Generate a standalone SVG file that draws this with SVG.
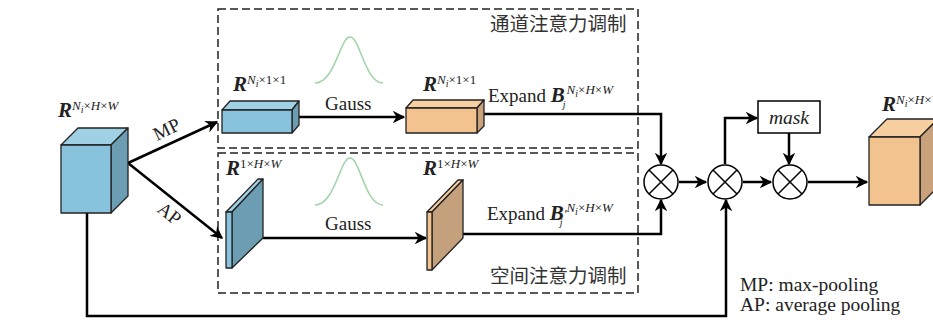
<svg xmlns="http://www.w3.org/2000/svg" width="933" height="322" viewBox="0 0 933 322">
<style>
.t{font-family:"Liberation Serif","Times New Roman",serif;fill:#222}
.R{font-weight:bold;font-style:italic;font-size:21px}
.sup{font-size:13px;font-style:italic}
.sub{font-size:10px;font-style:italic}
.up{font-style:normal}
.lbl{font-size:19px}
.cn{font-family:"Noto Sans CJK SC","Noto Sans",sans-serif;font-size:19.5px;fill:#333}
.dash{fill:none;stroke:#222;stroke-width:1.5;stroke-dasharray:8 4}
.ln{fill:none;stroke:#000;stroke-width:2.5}
.edge{stroke:#222;stroke-width:1.3;stroke-linejoin:round}
.gs{fill:none;stroke:#9fd4a8;stroke-width:1.5}
.circ{fill:#fff;stroke:#000;stroke-width:1.5}
</style>
<defs>
<marker id="ah" viewBox="0 0 10 10" refX="9" refY="5" markerWidth="5" markerHeight="5" orient="auto" markerUnits="strokeWidth">
<path d="M0,0 L10,5 L0,10 L3,5 z" fill="#000"/>
</marker>
</defs>

<rect width="933" height="322" fill="#fff"/>

<g id="box-channel">
<rect class="dash" x="218" y="9" width="420" height="139"/>
<text class="cn" x="490" y="31">通道注意力调制</text>
</g>
<g id="box-spatial">
<rect class="dash" x="218" y="153" width="420" height="140"/>
<text class="cn" x="490" y="283">空间注意力调制</text>
</g>

<g id="connectors">
<line class="ln" x1="128" y1="163" x2="217" y2="122" marker-end="url(#ah)"/>
<line class="ln" x1="128" y1="163" x2="222" y2="238" marker-end="url(#ah)"/>
<line class="ln" x1="299" y1="117" x2="404" y2="117" marker-end="url(#ah)"/>
<line class="ln" x1="263" y1="238" x2="426" y2="238" marker-end="url(#ah)"/>
<polyline class="ln" points="484,114 661,114 661,164" marker-end="url(#ah)"/>
<polyline class="ln" points="463,234 661,234 661,200" marker-end="url(#ah)"/>
<line class="ln" x1="679" y1="182" x2="706" y2="182" marker-end="url(#ah)"/>
<line class="ln" x1="743" y1="182" x2="771" y2="182" marker-end="url(#ah)"/>
<polyline class="ln" points="725,164 725,118 757,118" marker-end="url(#ah)"/>
<line class="ln" x1="789" y1="133" x2="789" y2="164" marker-end="url(#ah)"/>
<line class="ln" x1="808" y1="182" x2="867" y2="182" marker-end="url(#ah)"/>
<polyline class="ln" points="87,213 87,316 726,316 726,200" marker-end="url(#ah)"/>
<text class="t lbl" transform="translate(157,141) rotate(-26)">MP</text>
<text class="t lbl" transform="translate(156,211) rotate(38)">AP</text>
</g>

<g id="input-cube">
<polygon class="edge" points="61,145 78,128 128,128 111,145" fill="#9fd0e4"/>
<polygon class="edge" points="111,145 128,128 128,196 111,213" fill="#6c9db2"/>
<rect class="edge" x="61" y="145" width="50" height="68" fill="#88c2dc"/>
<text class="t" x="58" y="117"><tspan class="R">R</tspan><tspan class="sup" dy="-7">N</tspan><tspan class="sub" dy="3">i</tspan><tspan class="sup" dy="-3"><tspan class="up">×</tspan>H<tspan class="up">×</tspan>W</tspan></text>
</g>

<g id="mp-bar">
<polygon class="edge" points="222,110 230,101 299,101 292,110" fill="#9fd0e4"/>
<polygon class="edge" points="292,110 299,101 299,125 292,133" fill="#6c9db2"/>
<rect class="edge" x="222" y="110" width="70" height="23" fill="#88c2dc"/>
<text class="t" x="233" y="91"><tspan class="R">R</tspan><tspan class="sup" dy="-7">N</tspan><tspan class="sub" dy="3">i</tspan><tspan class="sup" dy="-3"><tspan class="up">×1×1</tspan></tspan></text>
</g>

<g id="gauss-top">
<path class="gs" d="M315,83 C335,83 340,37 350,37 C360,37 365,83 383,83"/>
<text class="t lbl" x="325" y="110">Gauss</text>
</g>

<g id="orange-bar">
<polygon class="edge" points="406,108 413,100 484,100 477,108" fill="#f7cfa0"/>
<polygon class="edge" points="477,108 484,100 484,126 477,133" fill="#c9a27c"/>
<rect class="edge" x="406" y="108" width="71" height="25" fill="#f3c38f"/>
<text class="t" x="423" y="91"><tspan class="R">R</tspan><tspan class="sup" dy="-7">N</tspan><tspan class="sub" dy="3">i</tspan><tspan class="sup" dy="-3"><tspan class="up">×1×1</tspan></tspan></text>
<text class="t lbl" x="488" y="102">Expand <tspan class="R" font-size="20">B</tspan><tspan class="sub" font-size="12" dx="-2" dy="6">j</tspan><tspan class="sup" dx="1" dy="-14">N</tspan><tspan class="sub" dy="3">i</tspan><tspan class="sup" dy="-3"><tspan class="up">×</tspan>H<tspan class="up">×</tspan>W</tspan></text>
</g>

<g id="ap-slab">
<polygon class="edge" points="226,212 258,179 263,179 232,212" fill="#9fd0e4"/>
<polygon class="edge" points="232,212 263,179 263,238 232,268" fill="#6c9db2"/>
<rect class="edge" x="226" y="212" width="6" height="56" fill="#88c2dc"/>
<text class="t" x="226" y="175"><tspan class="R">R</tspan><tspan class="sup" dy="-7"><tspan class="up">1×</tspan>H<tspan class="up">×</tspan>W</tspan></text>
</g>

<g id="gauss-bottom">
<path class="gs" d="M315,205 C335,205 340,158 350,158 C360,158 365,205 383,205"/>
<text class="t lbl" x="325" y="230">Gauss</text>
</g>

<g id="orange-slab">
<polygon class="edge" points="427,212 458,180 463,180 432,212" fill="#f7cfa0"/>
<polygon class="edge" points="432,212 463,180 463,238 432,270" fill="#c4a07c"/>
<rect class="edge" x="427" y="212" width="5" height="58" fill="#f3c38f"/>
<text class="t" x="423" y="175"><tspan class="R">R</tspan><tspan class="sup" dy="-7"><tspan class="up">1×</tspan>H<tspan class="up">×</tspan>W</tspan></text>
<text class="t lbl" x="487" y="220">Expand <tspan class="R" font-size="20">B</tspan><tspan class="sup" font-size="15" dy="-2">′</tspan><tspan class="sub" font-size="12" dx="-7" dy="8">j</tspan><tspan class="sup" dx="4" dy="-14">N</tspan><tspan class="sub" dy="3">i</tspan><tspan class="sup" dy="-3"><tspan class="up">×</tspan>H<tspan class="up">×</tspan>W</tspan></text>
</g>

<g id="mul1">
<circle class="circ" cx="661" cy="182" r="17"/>
<path d="M649,170 L673,194 M673,170 L649,194" stroke="#000" stroke-width="1.5"/>
</g>
<g id="mul2">
<circle class="circ" cx="725" cy="182" r="17"/>
<path d="M713,170 L737,194 M737,170 L713,194" stroke="#000" stroke-width="1.5"/>
</g>
<g id="mul3">
<circle class="circ" cx="790" cy="182" r="17"/>
<path d="M778,170 L802,194 M802,170 L778,194" stroke="#000" stroke-width="1.5"/>
</g>

<g id="mask">
<rect x="758" y="101" width="62" height="32" fill="#fff" stroke="#000" stroke-width="1.5"/>
<text class="t" x="789" y="124" font-size="19.5" font-style="italic" text-anchor="middle">mask</text>
</g>

<g id="output-cube">
<polygon class="edge" points="869,137 887,119 938,119 920,137" fill="#f7cfa0"/>
<polygon class="edge" points="920,137 938,119 938,187 920,205" fill="#c9a27c"/>
<rect class="edge" x="869" y="137" width="51" height="68" fill="#f3c38f"/>
<text class="t" x="882" y="111"><tspan class="R">R</tspan><tspan class="sup" dy="-7">N</tspan><tspan class="sub" dy="3">i</tspan><tspan class="sup" dy="-3"><tspan class="up">×</tspan>H<tspan class="up">×</tspan>W</tspan></text>
</g>

<g id="legend">
<text class="t" x="740" y="291" font-size="19.5">MP: max-pooling</text>
<text class="t" x="740" y="311" font-size="19.5">AP: average pooling</text>
</g>
</svg>
